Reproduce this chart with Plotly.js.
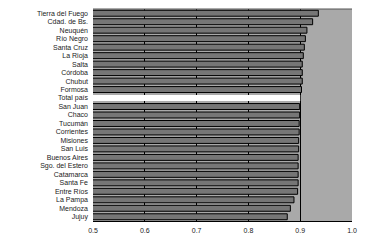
<!DOCTYPE html>
<html>
<head>
<meta charset="utf-8">
<script src="https://cdn.plot.ly/plotly-3.0.1.min.js"></script>
<style>html,body{margin:0;padding:0;background:#fff;}#chart{width:392px;height:244px;}</style>
</head>
<body>
<div id="chart"></div>
<script>
var provinces = ["Tierra del Fuego","Cdad. de Bs.","Neuquén","Río Negro","Santa Cruz","La Rioja","Salta","Córdoba","Chubut","Formosa","Total país","San Juan","Chaco","Tucumán","Corrientes","Misiones","San Luis","Buenos Aires","Sgo. del Estero","Catamarca","Santa Fe","Entre Ríos","La Pampa","Mendoza","Jujuy"];
var values = [0.935,0.924,0.913,0.910,0.908,0.906,0.904,0.904,0.904,0.9025,0.900,0.899,0.899,0.898,0.898,0.897,0.897,0.896,0.896,0.896,0.896,0.895,0.888,0.881,0.875];
var totalLabel = "Total país";
var tickValues = [0.5,0.6,0.7,0.8,0.9,1.0];
var tickLabels = ["0.5","0.6","0.7","0.8","0.9","1.0"];

var fillColors = provinces.map(function(p){ return p === totalLabel ? "#ffffff" : "#767676"; });
var lineWidths = provinces.map(function(p){ return p === totalLabel ? 0 : 1; });

var trace = {
  type: "bar",
  orientation: "h",
  y: provinces,
  x: values,
  marker: {color: fillColors, line: {color: "#000000", width: lineWidths}},
  hoverinfo: "none"
};

var layout = {
  width: 392, height: 244,
  margin: {l: 93, r: 40, t: 9, b: 23, pad: 0},
  paper_bgcolor: "#ffffff",
  plot_bgcolor: "#a9a9a9",
  showlegend: false,
  bargap: 0.3,
  font: {family: "Liberation Sans, Arial, sans-serif", size: 7, color: "#000"},
  xaxis: {
    range: [0.5, 1.0],
    tickvals: tickValues,
    ticktext: tickLabels,
    showgrid: true, gridcolor: "#000000", gridwidth: 1,
    showline: true, linecolor: "#000000", linewidth: 1, mirror: false,
    ticks: "", zeroline: false,
    ticklabelstandoff: 3,
    tickfont: {size: 7, color: "#222"}
  },
  yaxis: {
    autorange: "reversed",
    showgrid: false, zeroline: false, showline: false,
    ticks: "", ticklen: 0,
    ticklabelstandoff: 4,
    tickfont: {size: 7, color: "#222"},
    automargin: false
  },
  shapes: [{
    type: "line", xref: "paper", yref: "paper",
    x0: 0, x1: 1, y0: 1, y1: 1,
    line: {color: "#555555", width: 1}
  }]
};

Plotly.newPlot("chart", [trace], layout, {staticPlot: true, displayModeBar: false});
</script>
</body>
</html>
